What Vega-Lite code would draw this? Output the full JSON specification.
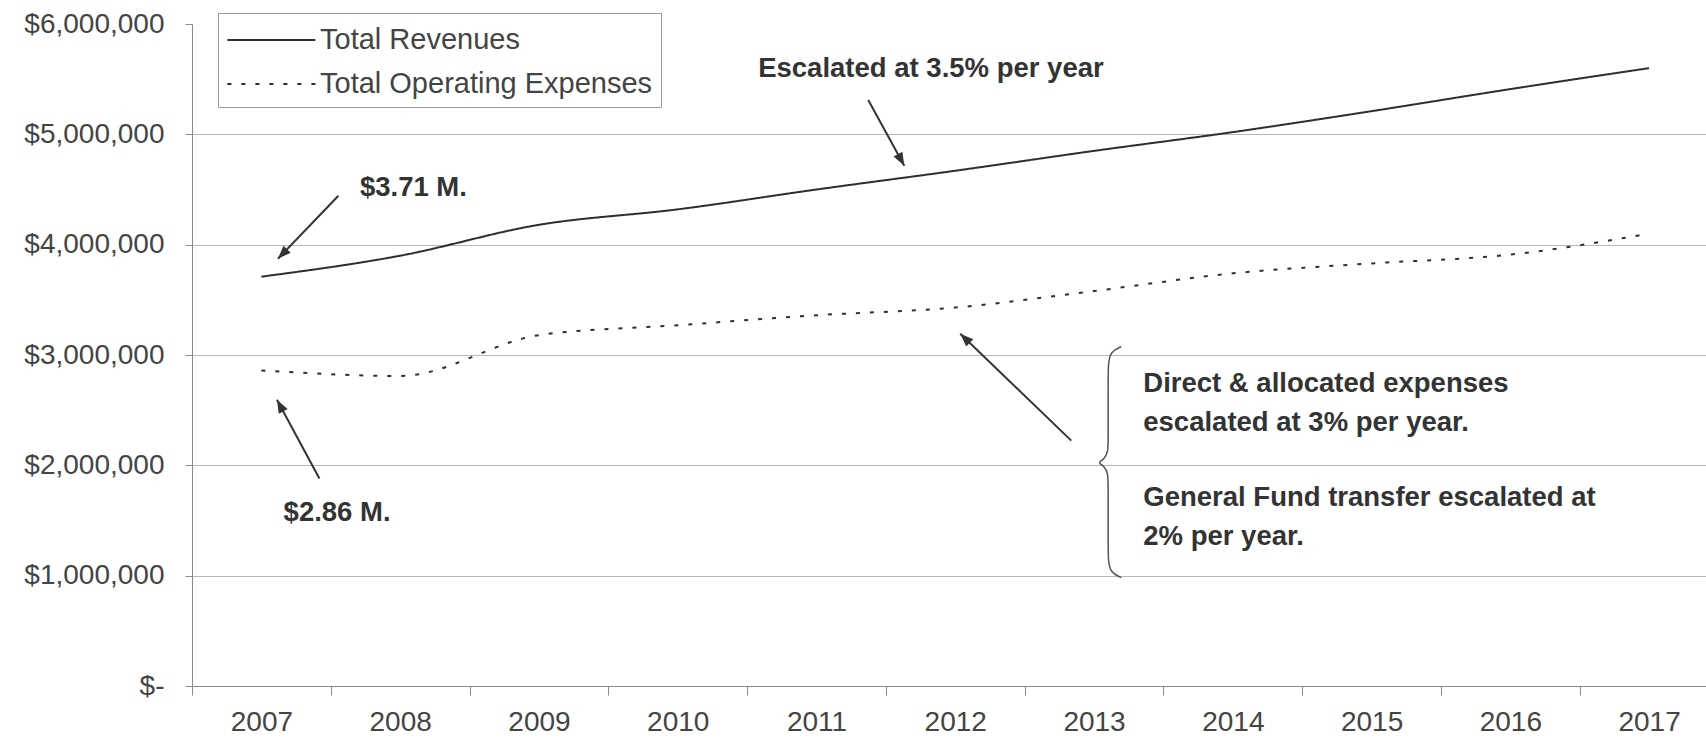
{
  "$schema": "https://vega.github.io/schema/vega-lite/v6.json",
  "width": 1514,
  "height": 662,
  "autosize": {"type": "none"},
  "padding": {"left": 192, "top": 24, "right": 0, "bottom": 56},
  "background": "white",
  "config": {"view": {"stroke": null}, "font": "Liberation Sans"},
  "datasets": {
    "series": [
      {"year": 2007, "value": 3710000, "series": "Total Revenues"},
      {"year": 2008, "value": 3900000, "series": "Total Revenues"},
      {"year": 2009, "value": 4180000, "series": "Total Revenues"},
      {"year": 2010, "value": 4320000, "series": "Total Revenues"},
      {"year": 2011, "value": 4500000, "series": "Total Revenues"},
      {"year": 2012, "value": 4670000, "series": "Total Revenues"},
      {"year": 2013, "value": 4850000, "series": "Total Revenues"},
      {"year": 2014, "value": 5020000, "series": "Total Revenues"},
      {"year": 2015, "value": 5210000, "series": "Total Revenues"},
      {"year": 2016, "value": 5410000, "series": "Total Revenues"},
      {"year": 2017, "value": 5600000, "series": "Total Revenues"},
      {"year": 2007, "value": 2860000, "series": "Total Operating Expenses"},
      {"year": 2008, "value": 2810000, "series": "Total Operating Expenses"},
      {"year": 2009, "value": 3180000, "series": "Total Operating Expenses"},
      {"year": 2010, "value": 3270000, "series": "Total Operating Expenses"},
      {"year": 2011, "value": 3360000, "series": "Total Operating Expenses"},
      {"year": 2012, "value": 3430000, "series": "Total Operating Expenses"},
      {"year": 2013, "value": 3580000, "series": "Total Operating Expenses"},
      {"year": 2014, "value": 3740000, "series": "Total Operating Expenses"},
      {"year": 2015, "value": 3830000, "series": "Total Operating Expenses"},
      {"year": 2016, "value": 3910000, "series": "Total Operating Expenses"},
      {"year": 2017, "value": 4100000, "series": "Total Operating Expenses"}
    ],
    "notes": [
      {"x": 2010.58, "y": 5590000, "text": "Escalated at 3.5% per year"},
      {"x": 2007.71, "y": 4513000, "text": "$3.71 M."},
      {"x": 2007.16, "y": 1572000, "text": "$2.86 M."},
      {"x": 2013.355, "y": 2740000, "text": "Direct & allocated expenses"},
      {"x": 2013.355, "y": 2387000, "text": "escalated at 3% per year."},
      {"x": 2013.355, "y": 1707000, "text": "General Fund transfer escalated at"},
      {"x": 2013.355, "y": 1354000, "text": "2% per year."}
    ],
    "arrows": [
      {"x": 2007.555, "y": 4443000, "x2": 2007.119, "y2": 3872000},
      {"x": 2007.418, "y": 1880000, "x2": 2007.112, "y2": 2595000},
      {"x": 2011.373, "y": 5312000, "x2": 2011.633, "y2": 4715000},
      {"x": 2012.836, "y": 2224000, "x2": 2012.036, "y2": 3193000}
    ],
    "brace": [
      {"i": 1, "x": 2013.196, "y": 3075000},
      {"i": 2, "x": 2013.117, "y": 3030000},
      {"i": 3, "x": 2013.102, "y": 2912000},
      {"i": 4, "x": 2013.102, "y": 2776000},
      {"i": 5, "x": 2013.102, "y": 2233000},
      {"i": 6, "x": 2013.102, "y": 2124000},
      {"i": 7, "x": 2013.073, "y": 2052000},
      {"i": 8, "x": 2013.023, "y": 2024000},
      {"i": 9, "x": 2013.073, "y": 1997000},
      {"i": 10, "x": 2013.102, "y": 1925000},
      {"i": 11, "x": 2013.102, "y": 1816000},
      {"i": 12, "x": 2013.102, "y": 1282000},
      {"i": 13, "x": 2013.102, "y": 1146000},
      {"i": 14, "x": 2013.117, "y": 1028000},
      {"i": 15, "x": 2013.196, "y": 983000}
    ]
  },
  "layer": [
    {
      "data": {"name": "series"},
      "mark": {"type": "line", "interpolate": "monotone", "color": "#2e2e2e", "strokeWidth": 2},
      "encoding": {
        "x": {
          "field": "year", "type": "quantitative",
          "scale": {"domain": [2006.5, 2017.41], "nice": false, "zero": false},
          "axis": {
            "title": null,
            "values": [2006.5, 2007.5, 2008.5, 2009.5, 2010.5, 2011.5, 2012.5, 2013.5, 2014.5, 2015.5, 2016.5],
            "grid": false,
            "tickSize": 9,
            "tickColor": "#8a8a8a",
            "domainColor": "#8a8a8a",
            "labelExpr": "format(datum.value + 0.5, 'd')",
            "labelOffset": 69.4,
            "labelFontSize": 28,
            "labelColor": "#444444",
            "labelPadding": 13,
            "labelBound": false,
            "labelFlush": false,
            "labelOverlap": false
          }
        },
        "y": {
          "field": "value", "type": "quantitative",
          "scale": {"domain": [0, 6000000], "nice": false},
          "axis": {
            "title": null,
            "values": [0, 1000000, 2000000, 3000000, 4000000, 5000000, 6000000],
            "grid": true,
            "gridColor": "#b8b8b8",
            "gridWidth": 1,
            "gridOpacity": {"condition": {"test": "datum.value == 6000000", "value": 0}, "value": 1},
            "tickSize": 7,
            "tickColor": "#8a8a8a",
            "domainColor": "#8a8a8a",
            "labelExpr": "datum.value == 0 ? '$-' : '$' + format(datum.value, ',')",
            "labelFontSize": 28,
            "labelColor": "#444444",
            "labelPadding": 21,
            "labelBound": false,
            "labelFlush": false,
            "labelOverlap": false
          }
        },
        "strokeDash": {
          "field": "series", "type": "nominal",
          "scale": {"domain": ["Total Revenues", "Total Operating Expenses"], "range": [[1, 0], [4, 10]]},
          "legend": {
            "orient": "none",
            "legendX": 26,
            "legendY": -11,
            "title": null,
            "symbolType": "M-1,0H4",
            "symbolSize": 1239,
            "symbolStrokeWidth": 2,
            "symbolStrokeColor": "#2e2e2e",
            "symbolFillColor": "transparent",
            "labelFontSize": 29,
            "labelColor": "#444444",
            "labelOffset": 56,
            "labelLimit": 0,
            "strokeColor": "#9a9a9a",
            "fillColor": "white",
            "padding": 8,
            "rowPadding": 10
          }
        }
      }
    },
    {
      "data": {"name": "arrows"},
      "mark": {"type": "rule", "color": "#333333", "strokeWidth": 2},
      "encoding": {
        "x": {"field": "x", "type": "quantitative", "title": null},
        "y": {"field": "y", "type": "quantitative", "title": null},
        "x2": {"field": "x2"},
        "y2": {"field": "y2"}
      }
    },
    {
      "data": {"name": "arrows"},
      "transform": [
        {"calculate": "atan2((datum.x2 - datum.x) * 138.8, (datum.y2 - datum.y) * 110.4 / 1000000) * 180 / PI", "as": "ang"}
      ],
      "mark": {"type": "point", "shape": "M0,0L-0.38,1L0.38,1Z", "filled": true, "color": "#333333", "size": 700, "opacity": 1},
      "encoding": {
        "x": {"field": "x2", "type": "quantitative", "title": null},
        "y": {"field": "y2", "type": "quantitative", "title": null},
        "angle": {"field": "ang", "type": "quantitative", "scale": null}
      }
    },
    {
      "data": {"name": "notes"},
      "mark": {"type": "text", "font": "Liberation Sans", "fontWeight": "bold", "fontSize": 27.5, "color": "#333333", "align": "left", "baseline": "middle"},
      "encoding": {
        "x": {"field": "x", "type": "quantitative", "title": null},
        "y": {"field": "y", "type": "quantitative", "title": null},
        "text": {"field": "text", "type": "nominal"}
      }
    },
    {
      "data": {"name": "brace"},
      "mark": {"type": "line", "interpolate": "basis", "color": "#555555", "strokeWidth": 1.5},
      "encoding": {
        "x": {"field": "x", "type": "quantitative", "title": null},
        "y": {"field": "y", "type": "quantitative", "title": null},
        "order": {"field": "i", "type": "quantitative"}
      }
    }
  ]
}
